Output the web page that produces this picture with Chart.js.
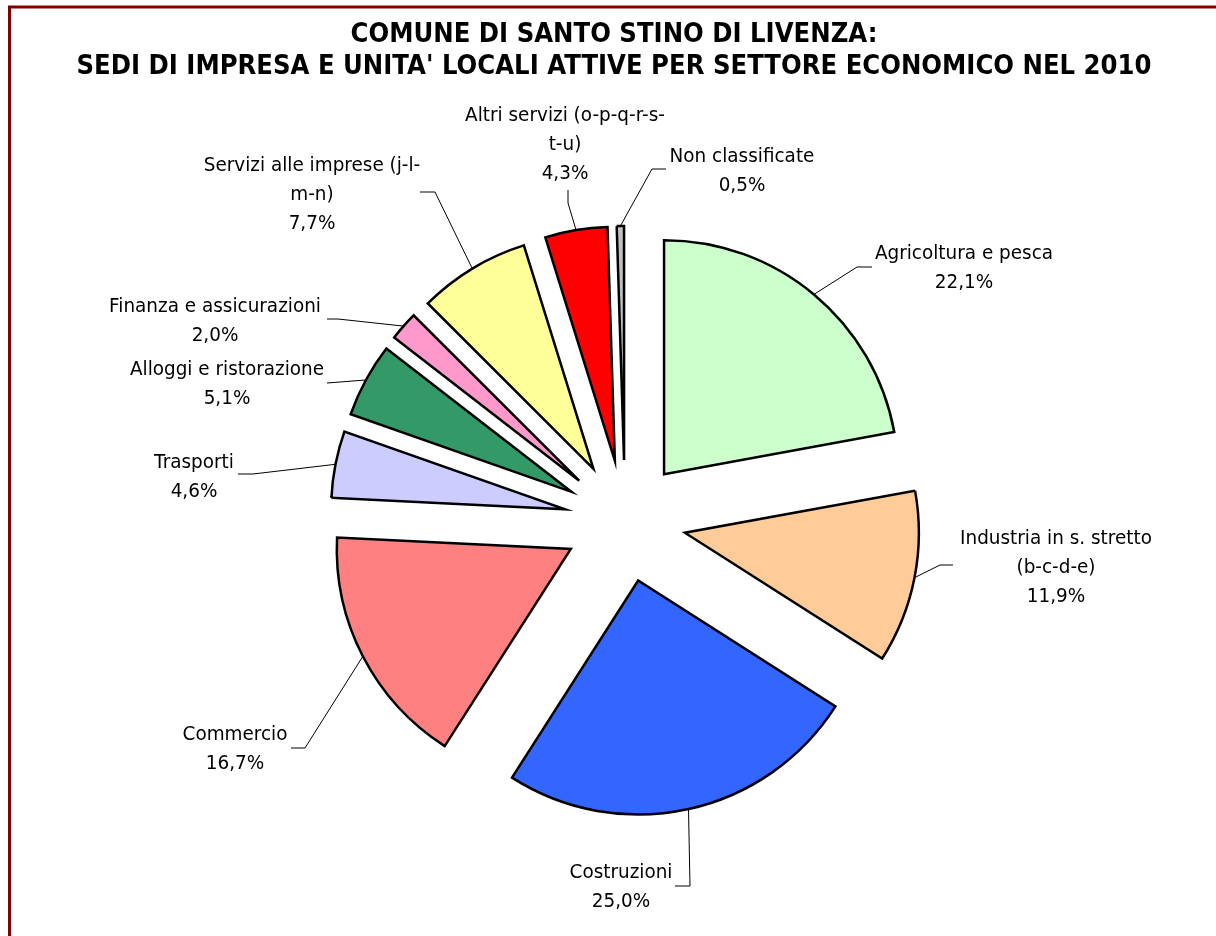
<!DOCTYPE html>
<html>
<head>
<meta charset="utf-8">
<script src="https://cdn.jsdelivr.net/npm/chart.js@4/dist/chart.umd.min.js"></script>
<style>
  html, body { margin: 0; padding: 0; background: #fff; }
  #container { position: relative; width: 1216px; height: 936px; }
</style>
</head>
<body>
<div id="container"><canvas id="app"></canvas></div>
<script>
const titleLines = ['COMUNE DI SANTO STINO DI LIVENZA:', "SEDI DI IMPRESA E UNITA' LOCALI ATTIVE PER SETTORE ECONOMICO NEL 2010"]
const categories = [
  'Agricoltura e pesca',
  'Industria in s. stretto (b-c-d-e)',
  'Costruzioni',
  'Commercio',
  'Trasporti',
  'Alloggi e ristorazione',
  'Finanza e assicurazioni',
  'Servizi alle imprese (j-l-m-n)',
  'Altri servizi (o-p-q-r-s-t-u)',
  'Non classificate'
]
const shares = [22.1, 11.9, 25.0, 16.7, 4.6, 5.1, 2.0, 7.7, 4.3, 0.5]
const colors = ['#CCFFCC', '#FFCC99', '#3366FF', '#FF8080', '#CCCCFF', '#339966', '#FF99CC', '#FFFF99', '#FF0000', '#C0C0C0']

// where each label sits: text centre x, first baseline y, leader bend / end, wrap width
const labelLayout = [
  { x: 964, y: 259, bend: [857, 267], end: [872, 267], wrap: 400 },
  { x: 1056, y: 544, bend: [940, 565], end: [953, 565], wrap: 210 },
  { x: 621, y: 878, bend: [690, 886], end: [675, 886], wrap: 400 },
  { x: 235, y: 740, bend: [305, 748], end: [291, 748], wrap: 400 },
  { x: 194, y: 468, bend: [253, 474], end: [238, 474], wrap: 400 },
  { x: 227, y: 375, bend: null, end: [327, 383], wrap: 400 },
  { x: 215, y: 312, bend: [338, 319], end: [327, 319], wrap: 400 },
  { x: 312, y: 171, bend: [435, 192], end: [420, 192], wrap: 228 },
  { x: 565, y: 121, bend: [568, 203], end: [568, 190], wrap: 205 },
  { x: 742, y: 162, bend: [652, 169], end: [666, 169], wrap: 400 }
]

const explodeGap = 61
const labelFont = '20px "DejaVu Sans"'
const labelStretch = 0.92
const lineHeight = 29

function pct(v){
  return v.toFixed(1).replace('.', ',') + '%'
}

function wrapText(ctx, text, maxWidth){
  const tokens = text.match(/[^\s-]+[\s-]*/g) || [text]
  const lines = []
  let cur = ''
  tokens.forEach(t => {
    const trial = cur + t
    if (cur && ctx.measureText(trial.trimEnd()).width * labelStretch > maxWidth){
      lines.push(cur.trimEnd())
      cur = t
    } else {
      cur = trial
    }
  })
  if (cur) lines.push(cur.trimEnd())
  return lines
}

function stretchedText(ctx, str, x, y, sx){
  ctx.save()
  ctx.translate(x, y)
  ctx.scale(sx, 1)
  ctx.fillText(str, 0, 0)
  ctx.restore()
}

// pull every slice out from the centre by the same distance
const explode = {
  id: 'explode',
  afterDatasetUpdate(chart, args){
    args.meta.data.forEach(arc => {
      const mid = (arc.startAngle + arc.endAngle) / 2
      arc.x += explodeGap * Math.cos(mid)
      arc.y += explodeGap * Math.sin(mid)
    })
  }
}

const frame = {
  id: 'frame',
  beforeDraw(chart){
    const ctx = chart.ctx
    ctx.save()
    ctx.fillStyle = '#fff'
    ctx.fillRect(0, 0, chart.width, chart.height)
    ctx.strokeStyle = '#800000'
    ctx.lineWidth = 3
    ctx.strokeRect(9.5, 7, chart.width + 20, chart.height + 20)

    ctx.fillStyle = '#000'
    ctx.font = 'bold 27px "DejaVu Sans"'
    ctx.textAlign = 'center'
    ctx.textBaseline = 'alphabetic'
    const sx = 1075 / ctx.measureText(titleLines[1]).width
    stretchedText(ctx, titleLines[0], 614, 42, sx)
    stretchedText(ctx, titleLines[1], 614, 74, sx)
    ctx.restore()
  },
  afterDatasetsDraw(chart){
    const ctx = chart.ctx
    const meta = chart.getDatasetMeta(0)
    ctx.save()
    ctx.font = labelFont
    ctx.textAlign = 'center'
    ctx.textBaseline = 'alphabetic'
    meta.data.forEach((arc, i) => {
      const lay = labelLayout[i]
      const mid = (arc.startAngle + arc.endAngle) / 2
      const sx0 = arc.x + arc.outerRadius * Math.cos(mid)
      const sy0 = arc.y + arc.outerRadius * Math.sin(mid)
      ctx.strokeStyle = '#000'
      ctx.lineWidth = 1
      ctx.beginPath()
      ctx.moveTo(sx0, sy0)
      if (lay.bend) ctx.lineTo(lay.bend[0], lay.bend[1])
      ctx.lineTo(lay.end[0], lay.end[1])
      ctx.stroke()

      const lines = wrapText(ctx, categories[i], lay.wrap)
      lines.push(pct(shares[i]))
      ctx.fillStyle = '#000'
      lines.forEach((ln, k) => {
        stretchedText(ctx, ln, lay.x, lay.y + k * lineHeight, labelStretch)
      })
    })
    ctx.restore()
  }
}

new Chart(document.getElementById('app'), {
  type: 'pie',
  data: {
    labels: categories,
    datasets: [{
      data: shares,
      backgroundColor: colors,
      borderColor: '#000',
      borderWidth: 2.5,
      borderJoinStyle: 'miter'
    }]
  },
  options: {
    responsive: true,
    maintainAspectRatio: false,
    animation: false,
    events: [],
    radius: 234,
    layout: { padding: { left: 34, right: 0, top: 106, bottom: 0 } },
    plugins: {
      legend: { display: false },
      tooltip: { enabled: false },
      title: { display: false }
    }
  },
  plugins: [explode, frame]
})
</script>
</body>
</html>
